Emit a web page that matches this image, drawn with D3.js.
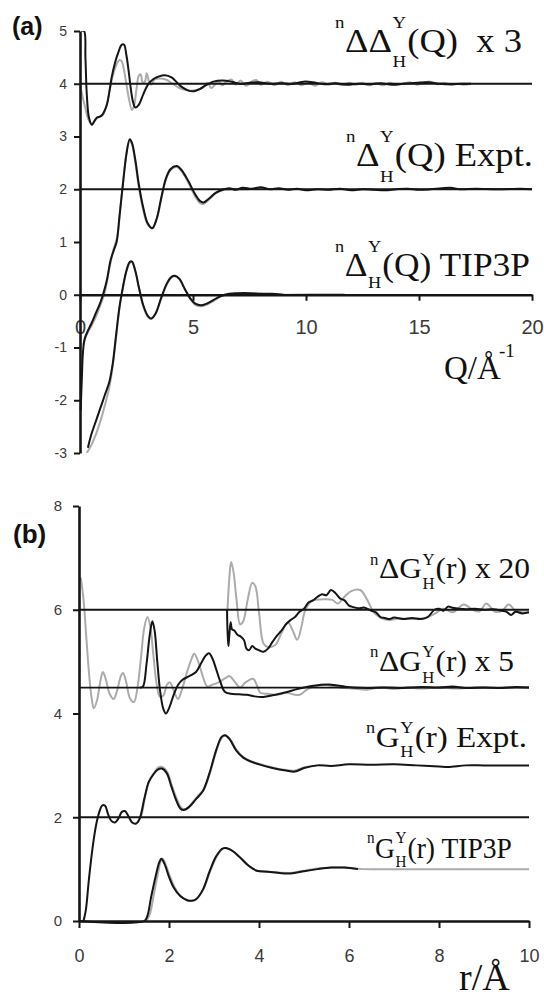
<!DOCTYPE html>
<html>
<head>
<meta charset="utf-8">
<script src="https://cdn.jsdelivr.net/npm/d3@7"></script>
<style>
  body { margin: 0; background: #fff; }
  .tick text { font-family: "Liberation Sans", Arial, sans-serif; fill: #3a3a3a; }
  .lbl { font-family: "Liberation Serif", "Times New Roman", serif; fill: #111; }
</style>
</head>
<body>
<div id="chart"></div>
<script>
// ---- panel (a) data (offsets already applied) ----
var qTicks = [0, 5, 10, 15, 20];
var aYTicks = [-3, -2, -1, 0, 1, 2, 3, 4, 5];
var aBaselines = [4, 2];

var ddBlack = [[0.05,5.0],[0.18,5.0],[0.24,4.5],[0.3,3.8],[0.4,3.35],[0.53,3.22],[0.65,3.3],[0.75,3.36],[0.9,3.38],[1.0,3.42],[1.1,3.5],[1.2,3.62],[1.3,3.85],[1.4,4.12],[1.55,4.4],[1.7,4.6],[1.85,4.74],[1.95,4.74],[2.05,4.55],[2.15,4.25],[2.25,3.9],[2.35,3.65],[2.45,3.55],[2.6,3.6],[2.8,3.8],[3.0,3.98],[3.25,4.09],[3.5,4.14],[3.75,4.16],[4.05,4.12],[4.3,4.02],[4.5,3.94],[4.8,3.87],[5.05,3.86],[5.3,3.9],[5.6,3.98],[5.9,4.04],[6.3,4.06],[6.7,4.04],[7.1,4.0],[7.5,4.02],[7.9,4.03],[8.4,4.0],[8.9,4.01],[9.4,4.0],[9.9,4.04],[10.3,4.03],[10.8,3.99],[11.3,4.01],[11.8,3.98],[12.3,4.0],[12.8,3.99],[13.3,4.01],[13.8,3.98],[14.3,4.0],[14.9,4.02],[15.4,4.03],[15.9,4.0],[16.4,3.99],[16.9,4.0],[17.3,4.0]];
var ddGrey = [[0.02,3.95],[0.08,3.82],[0.2,3.6],[0.35,3.35],[0.5,3.24],[0.65,3.3],[0.8,3.36],[1.0,3.4],[1.15,3.55],[1.3,3.85],[1.45,4.15],[1.6,4.35],[1.75,4.45],[1.85,4.42],[1.95,4.25],[2.05,4.0],[2.15,3.75],[2.3,3.5],[2.4,3.6],[2.5,3.9],[2.6,4.15],[2.68,4.18],[2.78,4.02],[2.88,4.05],[2.95,4.2],[3.05,4.05],[3.15,3.98],[3.3,4.08],[3.5,4.1],[3.8,4.08],[4.1,4.0],[4.4,3.92],[4.7,3.88],[5.0,3.87],[5.3,3.9],[5.5,3.96],[5.65,4.02],[5.8,3.92],[5.95,3.97],[6.1,4.05],[6.3,3.97],[6.5,4.05],[6.7,4.08],[6.9,3.98],[7.1,4.06],[7.35,3.96],[7.6,4.04],[7.8,4.07],[8.0,3.98],[8.3,4.04],[8.6,3.97],[8.9,4.04],[9.2,3.97],[9.5,4.03],[9.8,3.97],[10.1,4.02],[10.4,3.96],[10.7,4.03],[11.0,3.98],[11.3,4.02],[11.6,3.97],[11.9,4.02],[12.2,3.98],[12.5,4.02],[12.8,3.97],[13.1,4.01],[13.4,3.97],[13.7,4.02],[14.0,3.98],[14.3,4.0],[14.6,4.03],[14.9,3.98],[15.2,4.02],[15.5,4.04],[15.8,3.99],[16.1,4.02],[16.4,3.98],[16.7,4.0],[17.0,3.98],[17.3,4.0]];
var exBlack = [[0.03,-2.2],[0.08,-1.6],[0.13,-1.1],[0.2,-0.85],[0.35,-0.68],[0.5,-0.55],[0.7,-0.35],[0.9,-0.15],[1.05,0.05],[1.2,0.3],[1.35,0.65],[1.5,0.85],[1.62,1.0],[1.75,1.5],[1.9,2.1],[2.05,2.65],[2.2,2.95],[2.3,2.88],[2.45,2.55],[2.6,2.1],[2.8,1.65],[3.0,1.35],[3.2,1.26],[3.4,1.45],[3.6,1.85],[3.8,2.2],[4.0,2.38],[4.28,2.44],[4.5,2.36],[4.8,2.15],[5.1,1.9],[5.3,1.78],[5.46,1.75],[5.7,1.82],[6.0,1.93],[6.3,1.99],[6.6,2.02],[6.9,1.99],[7.2,2.03],[7.6,2.01],[8.0,2.04],[8.4,2.0],[8.8,2.02],[9.2,1.99],[9.6,2.01],[10.0,1.98],[10.5,2.0],[11.0,1.99],[11.5,2.01],[12.0,1.98],[12.5,2.0],[13.0,1.99],[13.5,1.98],[14.0,2.0],[14.5,2.01],[15.0,1.99],[15.5,2.0],[16.0,2.02],[16.4,2.03],[16.8,2.0],[17.5,2.01],[18.5,2.0],[19.5,2.01],[20.0,2.0]];
var exGrey = [[0.15,-0.95],[0.3,-0.75],[0.5,-0.6],[0.7,-0.42],[0.9,-0.2],[1.1,0.05],[1.3,0.5],[1.5,0.88],[1.65,1.1],[1.8,1.7],[1.95,2.3],[2.1,2.8],[2.2,2.92],[2.3,2.85],[2.45,2.5],[2.6,2.05],[2.8,1.6],[3.0,1.33],[3.2,1.27],[3.4,1.45],[3.6,1.82],[3.8,2.18],[4.0,2.36],[4.28,2.42],[4.5,2.34],[4.8,2.12],[5.1,1.86],[5.3,1.74],[5.46,1.72],[5.7,1.8],[6.0,1.92],[6.3,1.98],[6.8,2.0],[7.5,2.0]];
var tipBlack = [[0.35,-2.9],[0.5,-2.65],[0.7,-2.4],[0.9,-2.15],[1.1,-1.9],[1.3,-1.65],[1.45,-1.3],[1.6,-0.75],[1.75,-0.22],[1.9,0.15],[2.05,0.45],[2.2,0.62],[2.3,0.63],[2.45,0.45],[2.6,0.15],[2.8,-0.2],[3.0,-0.4],[3.15,-0.45],[3.35,-0.35],[3.6,-0.05],[3.85,0.22],[4.05,0.34],[4.2,0.36],[4.4,0.3],[4.65,0.1],[4.9,-0.08],[5.1,-0.17],[5.35,-0.2],[5.6,-0.17],[5.9,-0.1],[6.2,-0.03],[6.6,0.02],[7.0,0.03],[7.5,0.03],[8.0,0.02],[8.5,0.02],[9.0,0.0]];
var tipGrey = [[0.3,-3.0],[0.5,-2.85],[0.7,-2.65],[0.9,-2.4],[1.1,-2.1],[1.3,-1.75],[1.45,-1.35],[1.6,-0.8],[1.75,-0.25],[1.9,0.12],[2.05,0.43],[2.2,0.6],[2.3,0.62],[2.45,0.44],[2.6,0.14],[2.8,-0.22],[3.0,-0.42],[3.15,-0.46],[3.35,-0.36],[3.6,-0.06],[3.85,0.2],[4.05,0.33],[4.2,0.35],[4.4,0.29],[4.65,0.09],[4.9,-0.1],[5.1,-0.19],[5.35,-0.22],[5.6,-0.19],[5.9,-0.12],[6.2,-0.04],[6.6,0.01],[7.0,0.02],[8.0,0.02],[9.0,0.0],[10.2,0.01],[11.7,0.01]];

// ---- panel (b) data ----
var rTicks = [0, 2, 4, 6, 8, 10];
var bYTicks = [0, 2, 4, 6, 8];
var bBaselines = [6, 4.5, 2];

var x20Black = [[3.29,6.0],[3.3,5.6],[3.32,5.3],[3.34,5.5],[3.37,5.76],[3.4,5.62],[3.45,5.6],[3.52,5.52],[3.6,5.48],[3.67,5.41],[3.72,5.25],[3.78,5.22],[3.85,5.3],[3.92,5.25],[4.0,5.22],[4.1,5.19],[4.2,5.25],[4.3,5.38],[4.4,5.5],[4.5,5.6],[4.6,5.72],[4.7,5.8],[4.8,5.86],[4.9,5.96],[5.0,6.02],[5.1,6.14],[5.2,6.18],[5.3,6.25],[5.4,6.3],[5.5,6.28],[5.6,6.38],[5.7,6.32],[5.8,6.22],[5.9,6.18],[6.0,6.08],[6.1,6.05],[6.2,6.03],[6.35,6.04],[6.5,5.98],[6.6,5.95],[6.7,5.86],[6.8,5.84],[6.9,5.82],[7.0,5.85],[7.2,5.82],[7.4,5.84],[7.6,5.82],[7.75,5.86],[7.9,6.0],[8.0,6.02],[8.1,5.98],[8.2,6.06],[8.3,6.04],[8.45,6.02],[8.6,6.01],[8.8,6.02],[9.0,6.0],[9.2,6.01],[9.4,5.98],[9.5,5.96],[9.6,5.9],[9.7,5.96],[9.85,5.93],[10.0,5.95]];
var x20Grey = [[3.3,6.0],[3.34,6.6],[3.38,6.92],[3.43,6.75],[3.5,6.2],[3.58,5.72],[3.65,5.78],[3.75,6.2],[3.85,6.52],[3.92,6.45],[4.0,5.95],[4.1,5.35],[4.2,5.28],[4.36,5.32],[4.5,5.55],[4.64,5.76],[4.75,5.6],[4.85,5.42],[4.95,5.7],[5.03,6.0],[5.2,6.18],[5.4,6.2],[5.63,6.19],[5.75,6.12],[5.9,6.25],[6.05,6.36],[6.25,6.38],[6.4,6.2],[6.55,5.95],[6.7,5.85],[6.9,5.8],[7.1,5.83],[7.4,5.82],[7.7,5.84],[7.9,5.92],[8.1,6.02],[8.3,5.95],[8.55,6.1],[8.75,6.0],[8.9,5.97],[9.05,6.12],[9.25,5.96],[9.4,5.98],[9.55,6.1],[9.7,5.98],[9.85,5.95],[10.0,5.95]];
var x5Black = [[1.35,4.5],[1.42,4.52],[1.5,4.95],[1.57,5.5],[1.63,5.78],[1.68,5.6],[1.74,5.0],[1.8,4.45],[1.87,4.1],[1.93,4.0],[2.0,4.1],[2.1,4.35],[2.2,4.55],[2.3,4.65],[2.45,4.72],[2.6,4.8],[2.72,4.98],[2.82,5.12],[2.89,5.16],[2.97,5.05],[3.05,4.85],[3.13,4.64],[3.24,4.42],[3.37,4.38],[3.55,4.37],[3.73,4.36],[3.9,4.33],[4.1,4.32],[4.3,4.35],[4.46,4.38],[4.65,4.42],[4.8,4.46],[5.0,4.5],[5.17,4.53],[5.35,4.55],[5.54,4.56],[5.75,4.54],[5.9,4.52],[6.1,4.5],[6.4,4.49],[6.8,4.5],[7.2,4.49],[7.6,4.51],[8.0,4.5],[8.3,4.52],[8.6,4.49],[9.0,4.5],[9.4,4.49],[9.7,4.51],[10.0,4.5]];
var x5Grey = [[0.04,6.62],[0.1,6.2],[0.16,5.5],[0.22,4.8],[0.28,4.3],[0.33,4.1],[0.4,4.25],[0.47,4.6],[0.53,4.8],[0.6,4.65],[0.68,4.38],[0.77,4.28],[0.85,4.45],[0.93,4.72],[0.98,4.78],[1.05,4.6],[1.13,4.3],[1.22,4.22],[1.3,4.5],[1.38,5.1],[1.45,5.65],[1.52,5.86],[1.58,5.7],[1.65,5.15],[1.72,4.6],[1.8,4.32],[1.88,4.35],[1.95,4.55],[2.02,4.6],[2.1,4.45],[2.2,4.28],[2.3,4.5],[2.4,4.8],[2.5,5.05],[2.56,5.15],[2.65,5.0],[2.75,4.72],[2.85,4.52],[2.95,4.55],[3.1,4.6],[3.25,4.68],[3.35,4.72],[3.47,4.6],[3.58,4.5],[3.7,4.6],[3.87,4.67],[3.95,4.55],[4.03,4.4],[4.2,4.38],[4.4,4.36],[4.6,4.4],[4.8,4.36],[4.9,4.36],[5.05,4.45],[5.2,4.52],[5.5,4.55],[5.8,4.5],[6.1,4.48],[6.4,4.46],[6.7,4.5],[7.0,4.47],[7.3,4.5],[7.6,4.48],[8.0,4.5],[8.4,4.48],[8.8,4.5],[9.2,4.49],[9.6,4.5],[10.0,4.5]];
var gexBlack = [[0.1,0.0],[0.15,0.2],[0.22,0.8],[0.3,1.4],[0.38,1.85],[0.45,2.1],[0.52,2.23],[0.58,2.22],[0.65,2.05],[0.72,1.93],[0.8,1.9],[0.88,1.98],[0.95,2.1],[1.02,2.12],[1.1,2.02],[1.18,1.9],[1.27,1.88],[1.35,1.98],[1.45,2.35],[1.55,2.68],[1.65,2.82],[1.75,2.92],[1.84,2.94],[1.95,2.85],[2.05,2.6],[2.15,2.35],[2.25,2.17],[2.33,2.14],[2.45,2.2],[2.6,2.35],[2.75,2.5],[2.9,2.85],[3.05,3.3],[3.17,3.55],[3.25,3.58],[3.35,3.5],[3.5,3.28],[3.65,3.15],[3.8,3.08],[4.0,3.02],[4.3,2.95],[4.6,2.9],[4.8,2.88],[5.0,2.95],[5.3,3.0],[5.6,2.99],[6.0,3.02],[6.5,3.01],[7.0,3.02],[7.5,3.0],[8.0,2.98],[8.2,2.97],[8.6,3.0],[9.0,3.0],[9.5,3.0],[10.0,3.0]];
var gexGrey = [[1.3,1.9],[1.38,2.02],[1.47,2.4],[1.57,2.72],[1.67,2.86],[1.76,2.96],[1.85,2.97],[1.96,2.87],[2.06,2.62],[2.17,2.36],[2.28,2.18],[2.37,2.16],[2.5,2.26],[2.65,2.42],[2.78,2.55],[2.92,2.88],[3.06,3.3],[3.18,3.54],[3.26,3.57],[3.36,3.5],[3.5,3.3],[3.65,3.16],[3.8,3.09],[4.0,3.03],[4.3,2.96],[4.6,2.91],[4.8,2.9],[5.0,2.96],[5.3,3.0]];
var tipGBlack = [[0.0,0.0],[1.45,0.0],[1.52,0.1],[1.6,0.45],[1.7,0.85],[1.78,1.12],[1.83,1.2],[1.9,1.1],[2.0,0.85],[2.1,0.65],[2.25,0.48],[2.4,0.4],[2.5,0.39],[2.6,0.42],[2.75,0.6],[2.9,0.95],[3.05,1.25],[3.2,1.4],[3.35,1.38],[3.55,1.25],[3.75,1.08],[3.95,0.97],[4.2,0.95],[4.5,0.92],[4.75,0.92],[5.0,0.96],[5.3,1.0],[5.6,1.03],[5.9,1.03],[6.2,1.0]];
var tipGGrey = [[1.5,0.0],[1.58,0.15],[1.66,0.5],[1.75,0.9],[1.82,1.16],[1.86,1.2],[1.93,1.08],[2.03,0.84],[2.13,0.64],[2.27,0.47],[2.42,0.4],[2.52,0.39],[2.62,0.43],[2.77,0.62],[2.92,0.97],[3.07,1.26],[3.21,1.4],[3.36,1.38],[3.56,1.24],[3.76,1.07],[3.96,0.97],[4.2,0.95],[4.5,0.93],[4.75,0.93],[5.0,0.97],[5.3,1.01],[5.6,1.03],[5.9,1.03],[6.3,1.0],[7.0,1.0],[8.0,1.0],[9.0,1.0],[10.0,1.0]];

var w = 544, h = 1000;
var svg = d3.select("#chart").append("svg").attr("width", w).attr("height", h);
svg.append("rect").attr("width", w).attr("height", h).attr("fill", "#fff");

var black = "#151515", grey = "#ababab";

// scales
var xA = d3.scaleLinear().domain([0, 20]).range([80, 532]);
var yA = d3.scaleLinear().domain([-3, 5]).range([453, 31]);
var xB = d3.scaleLinear().domain([0, 10]).range([79, 529]);
var yB = d3.scaleLinear().domain([0, 8]).range([921, 506]);

svg.append("clipPath").attr("id", "clipA").append("rect")
  .attr("x", 78).attr("y", yA(5)).attr("width", 460).attr("height", yA(-3) - yA(5));

function drawCurve(g, xs, ys, data, color, width) {
  var line = d3.line()
    .x(d => xs(d[0]))
    .y(d => ys(d[1]))
    .curve(d3.curveCatmullRom.alpha(0.5));
  g.append("path").datum(data)
    .attr("d", line)
    .attr("fill", "none")
    .attr("stroke", color)
    .attr("stroke-width", width)
    .attr("stroke-linejoin", "round");
}

function drawBaselines(g, xs, ys, vals) {
  g.selectAll(null).data(vals).enter().append("line")
    .attr("x1", xs.range()[0]).attr("x2", xs.range()[1])
    .attr("y1", d => ys(d)).attr("y2", d => ys(d))
    .attr("stroke", black).attr("stroke-width", 1.8);
}

function styleAxis(g, fs) {
  g.select(".domain").attr("stroke", black).attr("stroke-width", 2.6);
  g.selectAll(".tick line").attr("stroke", black).attr("stroke-width", 2);
  g.selectAll(".tick text").style("font-size", fs + "px");
}

// ---------- panel (a) ----------
var gA = svg.append("g").attr("clip-path", "url(#clipA)");
[ddGrey, exGrey, tipGrey].forEach(d => drawCurve(gA, xA, yA, d, grey, 2));
drawBaselines(svg, xA, yA, aBaselines);
[ddBlack, exBlack, tipBlack].forEach(d => drawCurve(gA, xA, yA, d, black, 2));

var axA = svg.append("g").attr("transform", "translate(0," + yA(0) + ")")
  .call(d3.axisBottom(xA).tickValues(qTicks).tickSize(6).tickSizeOuter(0).tickPadding(19).tickFormat(d3.format("d")));
styleAxis(axA, 20);
var ayA = svg.append("g").attr("transform", "translate(" + xA(0) + ",0)")
  .call(d3.axisLeft(yA).tickValues(aYTicks).tickSize(6).tickSizeOuter(0).tickPadding(7).tickFormat(d3.format("d")));
styleAxis(ayA, 14);
ayA.selectAll(".tick text").text(d => d < 0 ? "-" + Math.abs(d) : d);

// ---------- panel (b) ----------
var gB = svg.append("g");
[x20Grey, x5Grey, gexGrey, tipGGrey].forEach(d => drawCurve(gB, xB, yB, d, grey, 2));
drawBaselines(svg, xB, yB, bBaselines);
[x20Black, x5Black, gexBlack, tipGBlack].forEach(d => drawCurve(gB, xB, yB, d, black, 2));

var axB = svg.append("g").attr("transform", "translate(0," + yB(0) + ")")
  .call(d3.axisBottom(xB).tickValues(rTicks).tickSize(7).tickSizeOuter(0).tickPadding(21));
styleAxis(axB, 18);
var ayB = svg.append("g").attr("transform", "translate(" + xB(0) + ",0)")
  .call(d3.axisLeft(yB).tickValues(bYTicks).tickSize(6).tickSizeOuter(0).tickPadding(11));
styleAxis(ayB, 15);

// ---------- curve labels: n, symbol, stacked Y/H scripts, argument, tail ----------
function curveLabel(s) {
  var g = svg.append("g").attr("class", "lbl");
  var x = 0;
  var n = g.append("text").attr("class", "lbl").attr("x", 0).attr("y", s.supDy)
    .style("font-size", s.sfs + "px").text("n");
  x += n.node().getComputedTextLength() + 0.5;
  var m = g.append("text").attr("class", "lbl").attr("x", x).attr("y", 0)
    .style("font-size", s.fs + "px").text(s.main);
  x += m.node().getComputedTextLength() + 0.5;
  var sup = g.append("text").attr("class", "lbl").attr("x", x).attr("y", s.supDy)
    .style("font-size", s.sfs + "px").text("Y");
  var sub = g.append("text").attr("class", "lbl").attr("x", x).attr("y", s.subDy)
    .style("font-size", s.sfs + "px").text("H");
  x += Math.max(sup.node().getComputedTextLength(), sub.node().getComputedTextLength()) + 1;
  var a = g.append("text").attr("class", "lbl").attr("x", x).attr("y", 0)
    .style("font-size", s.fs + "px").style("white-space", "pre").text(s.arg + s.tail);
  x += a.node().getComputedTextLength();
  var sx = (s.right - s.left) / x;
  g.attr("transform", "translate(" + s.left + "," + s.base + ") scale(" + sx + ",1)");
}

var labels = [
  {main: "\u0394\u0394", arg: "(Q)", tail: "  x 3", left: 335, right: 522, base: 52, fs: 33, sfs: 17, supDy: -24, subDy: 15},
  {main: "\u0394", arg: "(Q)", tail: " Expt.", left: 346, right: 533, base: 166, fs: 33, sfs: 17, supDy: -24, subDy: 16},
  {main: "\u0394", arg: "(Q)", tail: " TIP3P", left: 335, right: 530, base: 276, fs: 33, sfs: 17, supDy: -24, subDy: 12},
  {main: "\u0394G", arg: "(r)", tail: " x 20", left: 370, right: 530, base: 578, fs: 30, sfs: 16, supDy: -13, subDy: 11},
  {main: "\u0394G", arg: "(r)", tail: " x 5", left: 370, right: 514, base: 671, fs: 30, sfs: 16, supDy: -14, subDy: 12},
  {main: "G", arg: "(r)", tail: " Expt.", left: 366, right: 527, base: 747, fs: 29, sfs: 16, supDy: -14, subDy: 10},
  {main: "G", arg: "(r)", tail: " TIP3P", left: 367, right: 512, base: 858, fs: 29, sfs: 16, supDy: -15, subDy: 9}
];
labels.forEach(curveLabel);

// axis titles
svg.append("text").attr("class", "lbl").attr("x", 444).attr("y", 379)
  .style("font-size", "33px").text("Q/\u00c5");
svg.append("text").attr("class", "lbl").attr("x", 499).attr("y", 357)
  .style("font-size", "19px").text("-1");
svg.append("text").attr("class", "lbl").attr("x", 459).attr("y", 990)
  .style("font-size", "38px").text("r/\u00c5");

// panel letters
svg.append("text").attr("x", 12).attr("y", 35)
  .style("font-family", "Liberation Sans, Arial, sans-serif").style("font-weight", "bold")
  .style("font-size", "25px").attr("fill", "#111").text("(a)");
svg.append("text").attr("x", 13).attr("y", 543)
  .style("font-family", "Liberation Sans, Arial, sans-serif").style("font-weight", "bold")
  .style("font-size", "26px").attr("fill", "#111").text("(b)");
</script>
</body>
</html>
